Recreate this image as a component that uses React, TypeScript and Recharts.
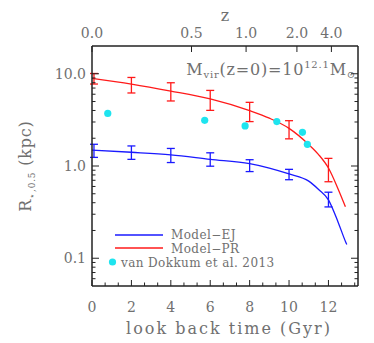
import { ComposedChart, Line, Scatter, XAxis, YAxis, ErrorBar, Legend } from 'recharts'

// model grid points with error bars (look back time in Gyr, R in kpc)
const modelTimes = [0.1, 2, 4, 6, 8, 10, 12]
const prMid = [8.83, 7.74, 6.5, 5.33, 3.98, 2.56, 0.95]
const prLow = [7.74, 6.19, 5.07, 4.01, 3.03, 1.97, 0.675]
const prHigh = [10.07, 9.12, 7.99, 6.6, 4.9, 3.1, 1.21]
const ejMid = [1.48, 1.41, 1.32, 1.18, 1.06, 0.82, 0.43]
const ejLow = [1.24, 1.18, 1.09, 0.995, 0.87, 0.71, 0.36]
const ejHigh = [1.72, 1.65, 1.55, 1.39, 1.17, 0.92, 0.52]

// model curves
const prCurveT = [0, 2, 4, 6, 8, 9, 10, 11, 11.5, 12, 12.5, 12.86]
const prCurveR = [8.9, 7.74, 6.5, 5.33, 3.98, 3.3, 2.56, 1.71, 1.33, 0.95, 0.557, 0.362]
const ejCurveT = [0, 2, 4, 6, 8, 9, 10, 11, 11.5, 12, 12.5, 12.88, 12.93]
const ejCurveR = [1.49, 1.41, 1.32, 1.18, 1.06, 0.95, 0.82, 0.685, 0.557, 0.43, 0.243, 0.149, 0.141]

// van Dokkum et al. 2013
const vdkT = [0.8, 5.72, 7.77, 9.38, 10.68, 10.93]
const vdkR = [3.72, 3.13, 2.72, 3.03, 2.32, 1.72]

// axes
const timeLabels = [0, 2, 4, 6, 8, 10, 12]
const timeTicks = Array.from({ length: 21 }, (_, i) => (i * 2) / 3)
const zLabels = ['0.0', '0.5', '1.0', '2.0', '4.0']
const zTimes = [0, 5.05, 7.82, 10.4, 12.15]
const yMajor = [0.1, 1, 10]
const yLabels = ['0.1', '1.0', '10.0']
const yMinor = [0.06, 0.07, 0.08, 0.09, 0.2, 0.3, 0.4, 0.5, 0.6, 0.7, 0.8, 0.9, 2, 3, 4, 5, 6, 7, 8, 9]

const INK = '#222'
const TXT = '#707070'
const FONT = '"DejaVu Serif", serif'
const BLUE = '#1a1aff'
const RED = '#ff1a1a'
const CYAN = '#1ee4ef'

const toRows = (ts: number[], rs: number[]) => ts.map((t, i) => ({ t, r: rs[i] }))
const toErr = (mid: number[], lo: number[], hi: number[]) =>
  modelTimes.map((t, i) => ({ t, r: mid[i], err: [mid[i] - lo[i], hi[i] - mid[i]] }))

const prCurve = toRows(prCurveT, prCurveR)
const ejCurve = toRows(ejCurveT, ejCurveR)
const prErr = toErr(prMid, prLow, prHigh)
const ejErr = toErr(ejMid, ejLow, ejHigh)
const vdk = toRows(vdkT, vdkR)
// keeps the top (z) and right axes attached to a series
const zAnchor = zTimes.map((t) => ({ t, r: 1 }))

const majorIdx = (v: number) => yMajor.findIndex((m) => Math.abs(m - v) < 1e-9)

function LeftTick({ x, y, payload }: any) {
  const i = majorIdx(payload.value)
  return (
    <g>
      <line x1={x} x2={x + (i >= 0 ? 7 : 3.5)} y1={y} y2={y} stroke={INK} />
      {i >= 0 && (
        <text x={x - 6} y={y} dy={5} textAnchor="end" fontFamily={FONT} fontSize={14} fill={TXT}>
          {yLabels[i]}
        </text>
      )}
    </g>
  )
}

function RightTick({ x, y, payload }: any) {
  const i = majorIdx(payload.value)
  return <line x1={x} x2={x - (i >= 0 ? 7 : 3.5)} y1={y} y2={y} stroke={INK} />
}

function BottomTick({ x, y, payload }: any) {
  const v = payload.value
  const lab = timeLabels.find((l) => Math.abs(l - v) < 1e-6)
  return (
    <g>
      <line x1={x} x2={x} y1={y} y2={y - (lab !== undefined ? 6 : 3.5)} stroke={INK} />
      {lab !== undefined && (
        <text x={x} y={y} dy={26} textAnchor="middle" fontFamily={FONT} fontSize={14} fill={TXT}>
          {lab}
        </text>
      )}
    </g>
  )
}

function TopTick({ x, y, payload }: any) {
  const i = zTimes.findIndex((t) => Math.abs(t - payload.value) < 1e-6)
  return (
    <g>
      <line x1={x} x2={x} y1={y} y2={y + 6} stroke={INK} />
      <text x={x} y={y} dy={-8} textAnchor="middle" fontFamily={FONT} fontSize={14} fill={TXT}>
        {zLabels[i]}
      </text>
    </g>
  )
}

function LegendBox() {
  return (
    <svg width={220} height={46} style={{ display: 'block', overflow: 'visible' }}>
      <line x1={10} x2={58} y1={9} y2={9} stroke={BLUE} strokeWidth={1.3} />
      <text x={66} y={13} fontFamily={FONT} fontSize={12} fill={TXT} letterSpacing={0.4}>Model−EJ</text>
      <line x1={10} x2={58} y1={22} y2={22} stroke={RED} strokeWidth={1.3} />
      <text x={66} y={26.5} fontFamily={FONT} fontSize={12} fill={TXT} letterSpacing={0.4}>Model−PR</text>
      <circle cx={7.5} cy={36} r={3.6} fill={CYAN} />
      <text x={16} y={40.5} fontFamily={FONT} fontSize={12} fill={TXT} letterSpacing={0.4}>van Dokkum et al. 2013</text>
    </svg>
  )
}

const noDot = () => <g />

export default function App() {
  return (
    <div>
      <style>{'body{margin:0}'}</style>
      <ComposedChart width={374} height={343} margin={{ top: 0, right: 0, bottom: 0, left: 0 }}>
        <XAxis
          dataKey="t"
          type="number"
          domain={[0, 13.5]}
          ticks={timeTicks}
          interval={0}
          tick={<BottomTick />}
          tickSize={0}
          tickMargin={0}
          height={57}
          axisLine={{ stroke: INK, strokeWidth: 1.5 }}
          allowDataOverflow
        />
        <XAxis
          xAxisId="top"
          dataKey="t"
          orientation="top"
          type="number"
          domain={[0, 13.5]}
          ticks={zTimes}
          interval={0}
          tick={<TopTick />}
          tickSize={0}
          tickMargin={0}
          height={46}
          axisLine={{ stroke: INK, strokeWidth: 1.5 }}
          allowDataOverflow
        />
        <YAxis
          dataKey="r"
          type="number"
          scale="log"
          domain={[0.05, 20]}
          ticks={[...yMajor, ...yMinor]}
          interval={0}
          tick={<LeftTick />}
          tickSize={0}
          tickMargin={0}
          width={92}
          axisLine={{ stroke: INK, strokeWidth: 1.5 }}
          allowDataOverflow
        />
        <YAxis
          yAxisId="right"
          dataKey="r"
          orientation="right"
          type="number"
          scale="log"
          domain={[0.05, 20]}
          ticks={[...yMajor, ...yMinor]}
          interval={0}
          tick={<RightTick />}
          tickSize={0}
          tickMargin={0}
          width={16}
          axisLine={{ stroke: INK, strokeWidth: 1.5 }}
          allowDataOverflow
        />
        <Scatter data={zAnchor} dataKey="r" xAxisId="top" yAxisId="right" shape={noDot} isAnimationActive={false} />
        <Line data={ejCurve} dataKey="r" type="monotone" stroke={BLUE} strokeWidth={1.3} dot={false} isAnimationActive={false} />
        <Line data={prCurve} dataKey="r" type="monotone" stroke={RED} strokeWidth={1.3} dot={false} isAnimationActive={false} />
        <Scatter data={ejErr} dataKey="r" shape={noDot} isAnimationActive={false}>
          <ErrorBar dataKey="err" direction="y" width={4} stroke={BLUE} strokeWidth={1.3} />
        </Scatter>
        <Scatter data={prErr} dataKey="r" shape={noDot} isAnimationActive={false}>
          <ErrorBar dataKey="err" direction="y" width={4} stroke={RED} strokeWidth={1.3} />
        </Scatter>
        <Scatter
          data={vdk}
          dataKey="r"
          isAnimationActive={false}
          shape={(p: any) => <circle cx={p.cx} cy={p.cy} r={3.6} fill={CYAN} />}
        />
        <Legend
          layout="horizontal"
          verticalAlign="middle"
          align="center"
          content={() => <LegendBox />}
          wrapperStyle={{ left: 105, top: 226, width: 220, height: 46 }}
        />
        <text x={225} y={21} textAnchor="middle" fontFamily={FONT} fontSize={16} fill={TXT}>z</text>
        <text x={229} y={334} textAnchor="middle" fontFamily={FONT} fontSize={16} fill={TXT} letterSpacing={2}>
          look back time (Gyr)
        </text>
        <text transform="translate(31,166) rotate(-90)" textAnchor="middle" fontFamily={FONT} fontSize={16} fill={TXT} letterSpacing={0.8}>
          R<tspan fontSize={9} dy={4}>⋆,0.5</tspan>
          <tspan dy={-4}> (kpc)</tspan>
        </text>
        <text x={356} y={75} textAnchor="end" fontFamily={FONT} fontSize={16} fill={TXT} letterSpacing={0.8}>
          M<tspan fontSize={10} dy={3}>vir</tspan>
          <tspan dy={-3}>(z=0)=10</tspan>
          <tspan fontSize={10} dy={-7}>12.1</tspan>
          <tspan dy={7}>M</tspan>
          <tspan fontSize={10} dy={3}>⊙</tspan>
        </text>
      </ComposedChart>
    </div>
  )
}
